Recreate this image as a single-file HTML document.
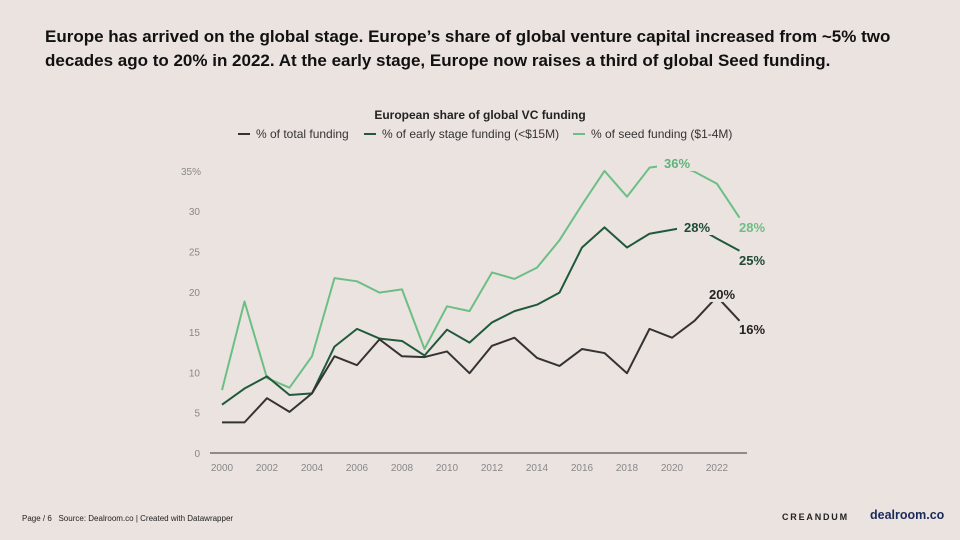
<!DOCTYPE html>
<html><head><meta charset="utf-8"><style>
body{margin:0;width:960px;height:540px;background:#ebe3e0;font-family:"Liberation Sans",sans-serif;overflow:hidden;position:relative}
#title{position:absolute;left:45px;top:25px;font-size:17px;font-weight:bold;line-height:24px;color:#111;width:880px}
svg{position:absolute;left:0;top:0}
.foot{position:absolute;font-size:8px;color:#222}
</style></head><body>
<div id="title">Europe has arrived on the global stage. Europe’s share of global venture capital increased from ~5% two decades ago to 20% in 2022. At the early stage, Europe now raises a third of global Seed funding.</div>
<svg id="chart" width="960" height="540"></svg>
<div class="foot" style="left:22px;top:514px">Page / 6 &nbsp; Source: Dealroom.co | Created with Datawrapper</div>
<div class="foot" style="left:782px;top:512px;font-size:9px;letter-spacing:1.8px;font-weight:bold">CREANDUM</div>
<div class="foot" style="left:870px;top:508px;font-size:12.5px;font-weight:bold;color:#1a2a5a">dealroom.co</div>
<script>
const years=[2000,2001,2002,2003,2004,2005,2006,2007,2008,2009,2010,2011,2012,2013,2014,2015,2016,2017,2018,2019,2020,2021,2022,2023];
const totalShare=[3.8,3.8,6.8,5.1,7.4,12,10.9,14.1,12,11.9,12.6,9.9,13.3,14.3,11.8,10.8,12.9,12.4,9.9,15.4,14.3,16.4,19.4,16.4];
const earlyShare=[6,8,9.5,7.2,7.4,13.2,15.4,14.2,13.9,12.1,15.3,13.7,16.2,17.6,18.4,19.9,25.5,28,25.5,27.2,27.7,28.2,26.6,25.1];
const seedShare=[7.8,18.8,9.3,8.1,12,21.7,21.3,19.9,20.3,12.9,18.2,17.6,22.4,21.6,23,26.4,30.8,35,31.8,35.4,35.8,34.9,33.4,29.2];
const yTicks=[0,5,10,15,20,25,30,35];
const xTicks=[2000,2002,2004,2006,2008,2010,2012,2014,2016,2018,2020,2022];
const ns="http://www.w3.org/2000/svg",svg=document.getElementById('chart');
const x=v=>222+(v-2000)*22.5, y=v=>453-v*8.06;
function mk(t,a,txt){const e=document.createElementNS(ns,t);for(const k in a)e.setAttribute(k,a[k]);if(txt!=null)e.textContent=txt;svg.appendChild(e);return e;}
let t=mk('text',{x:480,y:119,'text-anchor':'middle','font-size':12,'font-weight':'bold',fill:'#222'},'European share of global VC funding');


const leg=[['% of total funding','#333',238],['% of early stage funding (<$15M)','#1f5a3a',364],['% of seed funding ($1-4M)','#6cbf84',573]];
leg.forEach(l=>{const g=mk('g',{});
const ln=document.createElementNS(ns,'line');[['x1',l[2]],['x2',l[2]+12],['y1',134],['y2',134],['stroke',l[1]],['stroke-width',2]].forEach(p=>ln.setAttribute(p[0],p[1]));g.appendChild(ln);
const tx=document.createElementNS(ns,'text');tx.setAttribute('x',l[2]+18);tx.setAttribute('y',138);tx.setAttribute('font-size',12);tx.setAttribute('fill','#333');tx.textContent=l[0];g.appendChild(tx);});
yTicks.forEach(v=>{const e=mk('text',{x:v==35?201:200,y:y(v)+4,'text-anchor':'end','font-size':10,fill:'#888'},v==35?'35%':v);
});
xTicks.forEach(v=>{const e=mk('text',{x:x(v),y:471,'text-anchor':'middle','font-size':10,fill:'#888'},v);
});
const ax=mk('line',{x1:210,x2:747,y1:453,y2:453,stroke:'#333','stroke-width':1});

function series(d,c,name){const p=mk('polyline',{points:d.map((v,i)=>x(years[i])+','+y(v)).join(' '),fill:'none',stroke:c,'stroke-width':2,'stroke-linejoin':'round'});
}
series(seedShare,'#6cbf84','seed-funding-line');
series(earlyShare,'#1f5a3a','early-stage-line');
series(totalShare,'#333','total-funding-line');
function lab(tx,xx,yy,c){const b=mk('rect',{x:xx-20,y:yy-12,width:40,height:15,fill:'#ebe3e0'});
const e=mk('text',{x:xx,y:yy,'text-anchor':'middle','font-size':13,'font-weight':'bold',fill:c},tx);
}
lab('36%',677,168,'#5fb27a');lab('28%',697,232,'#1f4a33');lab('28%',752,232,'#6cbf84');lab('25%',752,265,'#1f4a33');
lab('20%',722,299,'#222');lab('16%',752,334,'#222');
</script>
</body></html>
